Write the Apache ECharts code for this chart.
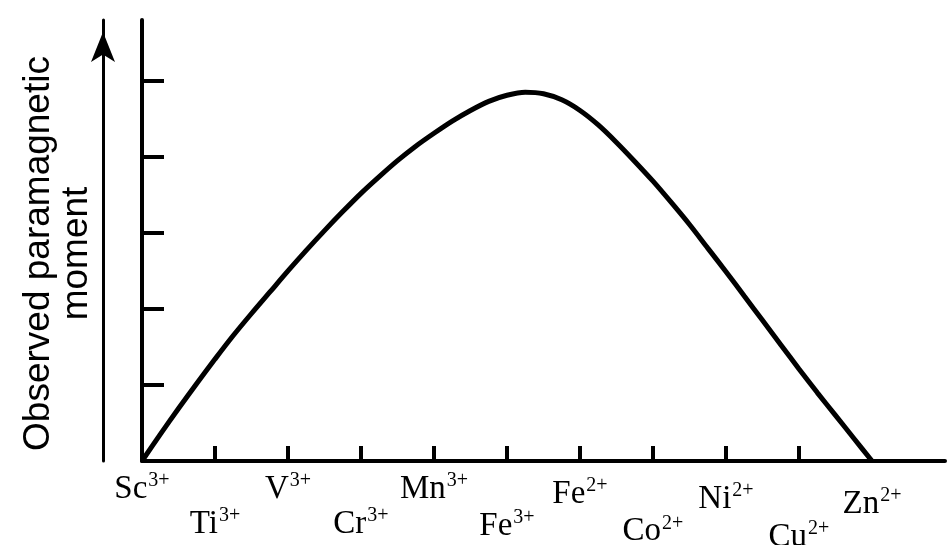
<!DOCTYPE html>
<html>
<head>
<meta charset="utf-8">
<script src="https://cdn.jsdelivr.net/npm/echarts@6/dist/echarts.min.js"></script>
<style>
  html, body { margin: 0; padding: 0; background: #fff; }
  #chart { width: 948px; height: 545px; }
</style>
</head>
<body>
<div id="chart"></div>
<script>
// ---- data ----
const ions = ['Sc', 'Ti', 'V', 'Cr', 'Mn', 'Fe', 'Fe', 'Co', 'Ni', 'Cu', 'Zn'];
const charges = ['3+', '3+', '3+', '3+', '3+', '3+', '2+', '2+', '2+', '2+', '2+'];
const ionPositions = [0, 1, 2, 3, 4, 5, 6, 7, 8, 9, 10];
const xTickValues = [1, 2, 3, 4, 5, 6, 7, 8, 9];
const yTickValues = [1, 2, 3, 4, 5];
const curveX = [0, 0.25, 0.5, 0.75, 1, 1.25, 1.5, 1.75, 2, 2.25, 2.5, 2.75, 3, 3.25, 3.5, 3.75, 4, 4.25, 4.5, 4.75,
                5, 5.25, 5.5, 5.75, 6, 6.25, 6.5, 6.75, 7, 7.25, 7.5, 7.75, 8, 8.25, 8.5, 8.75, 9, 9.25, 9.5, 9.75, 10];
const curveY = [0, 0.35, 0.69, 1.02, 1.34, 1.65, 1.94, 2.22, 2.50, 2.77, 3.03, 3.28, 3.52, 3.74, 3.95, 4.14, 4.31, 4.47, 4.61, 4.73,
                4.81, 4.85, 4.83, 4.75, 4.61, 4.42, 4.19, 3.94, 3.68, 3.40, 3.11, 2.80, 2.49, 2.17, 1.85, 1.53, 1.21, 0.90, 0.60, 0.30, 0];
const yAxisTitle = 'Observed paramagnetic\nmoment';

// ---- styles built for labels ----
const rich = {};
ionPositions.forEach(function (i) {
  const tilt = Math.max(0, i - 4) * 2.6;
  const center = (i % 2 === 0 ? 491 : 526) + tilt;
  const L = 2 * (center - 467);
  rich['a' + i] = { fontFamily: 'Liberation Serif', fontSize: 33, color: '#000', lineHeight: L, verticalAlign: 'middle' };
  rich['s' + i] = { fontFamily: 'Liberation Serif', fontSize: 20, color: '#000', lineHeight: 20, padding: [0, 0, 17, 1], verticalAlign: 'middle' };
});

const chart = echarts.init(document.getElementById('chart'), null, { renderer: 'canvas' });
chart.setOption({
  animation: false,
  backgroundColor: '#fff',
  grid: { left: 142, right: 3, top: 20, bottom: 84, outerBoundsMode: 'none', containLabel: false },
  xAxis: {
    type: 'value', min: 0, max: 11, interval: 1,
    axisLine: { show: true, onZero: true, lineStyle: { color: '#000', width: 4 } },
    axisTick: { show: true, inside: true, length: 15, customValues: xTickValues, lineStyle: { color: '#000', width: 4 } },
    axisLabel: {
      show: true, margin: 4, customValues: ionPositions,
      formatter: function (val) {
        const i = Math.round(val);
        return '{a' + i + '|' + ions[i] + '}{s' + i + '|' + charges[i] + '}';
      },
      rich: rich
    },
    splitLine: { show: false }
  },
  yAxis: [
    {
      type: 'value', min: 0, max: 5.8, interval: 1,
      axisLine: { show: true, lineStyle: { color: '#000', width: 4 } },
      axisTick: { show: true, inside: true, length: 22, customValues: yTickValues, lineStyle: { color: '#000', width: 4 } },
      axisLabel: { show: false },
      splitLine: { show: false },
      name: yAxisTitle,
      nameLocation: 'middle',
      nameRotate: 90,
      nameGap: 46,
      nameTextStyle: { fontFamily: 'Liberation Sans', fontSize: 37, lineHeight: 38, color: '#000', padding: [0, 26, 0, 0] }
    },
    {
      type: 'value', min: 0, max: 5.8, position: 'left', offset: 39,
      axisLine: { show: true, symbol: ['none', 'arrow'], symbolSize: [18, 30], symbolOffset: [0, -12], lineStyle: { color: '#000', width: 3 } },
      axisTick: { show: false },
      axisLabel: { show: false },
      splitLine: { show: false }
    }
  ],
  series: [{
    type: 'line',
    data: curveX.map(function (x, k) { return [x, curveY[k]]; }),
    smooth: 0.3,
    symbol: 'none',
    lineStyle: { color: '#000', width: 5 },
    z: 5
  }]
});
</script>
</body>
</html>
